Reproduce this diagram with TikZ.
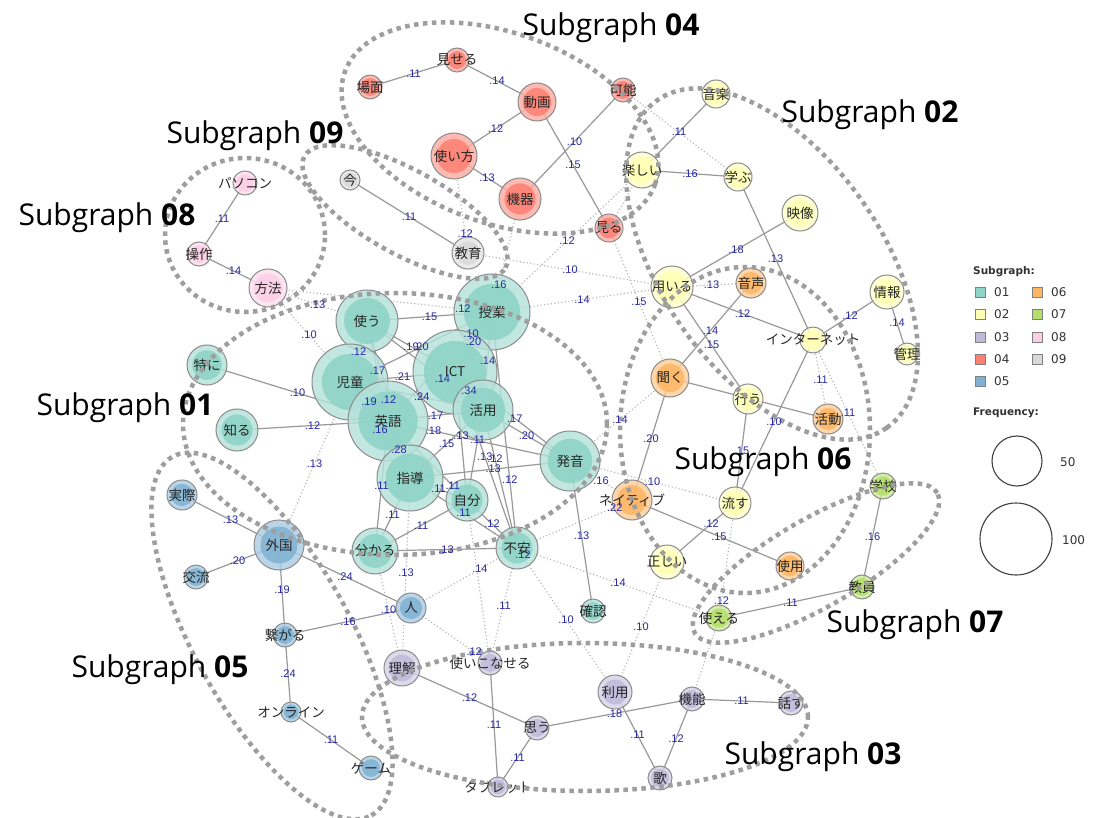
\documentclass[tikz,border=0pt]{standalone}
\usepackage{fontspec}
\newfontfamily\jp{Noto Sans CJK JP}
\newfontfamily\osans{Open Sans}
\newfontfamily\lsans{Liberation Sans}
\newfontfamily\dvs{DejaVu Sans}
\definecolor{sA}{HTML}{8DD3C7}
\definecolor{sB}{HTML}{FFFFB3}
\definecolor{sC}{HTML}{BEBADA}
\definecolor{sD}{HTML}{FB8072}
\definecolor{sE}{HTML}{80B1D3}
\definecolor{sF}{HTML}{FDB462}
\definecolor{sG}{HTML}{B3DE69}
\definecolor{sH}{HTML}{FCCDE5}
\definecolor{sI}{HTML}{D9D9D9}
\definecolor{lblc}{RGB}{40,40,165}
\pgfdeclarelayer{bglayer}
\pgfdeclarelayer{edgelayer}
\pgfdeclarelayer{lbllayer}
\pgfsetlayers{bglayer,edgelayer,main,lbllayer}
\tikzset{
 nd/.style={circle,draw=black!45,line width=1pt,inner sep=0pt,fill opacity=.82},
 txt/.style={font=\jp\fontsize{13.5}{14}\selectfont,text=black!85,inner sep=0pt},
 esol/.style={draw=black!40,line width=1.2pt},
 edot/.style={draw=black!30,line width=1.1pt,dash pattern=on 1.1pt off 2.4pt},
 lbl/.style={font=\lsans\fontsize{11}{11}\selectfont,text=lblc,inner sep=0pt},
 sg/.style={draw=black!38,line width=4.5pt,dash pattern=on 4.5pt off 4.5pt},
 ttl/.style={font=\osans\fontsize{30}{31}\selectfont,inner sep=0pt},
 lgt/.style={font=\dvs\fontsize{12}{13}\selectfont,text=black!80,inner sep=0pt,anchor=west},
 lgh/.style={font=\dvs\bfseries\fontsize{10.5}{12}\selectfont,text=black!80,inner sep=0pt,anchor=west},
 lsq/.style={draw=black!50,line width=.8pt,minimum size=10pt,inner sep=0pt},
}
\newcommand\N[6]{%
 \node[nd,minimum size=2*#4pt,fill=#5!65!white] (#1) at (#2,#3) {};
 \fill[#5,fill opacity=.85] (#1.center) circle[radius=.74*#4pt];
 \node[txt] (#1t) at (#1.center) {#6};}
\newcommand\E[5][esol]{%
 \begin{pgfonlayer}{edgelayer}\draw[#1] (#2.center) -- (#3.center);\end{pgfonlayer}%
 \begin{pgfonlayer}{lbllayer}\path (#2.center) -- node[lbl,pos=#4]{#5} (#3.center);\end{pgfonlayer}}
\begin{document}
\begin{tikzpicture}[x=1pt,y=-1pt]
\useasboundingbox (0,0) rectangle (1098,818);
\begin{pgfonlayer}{bglayer}\fill[white] (0,0) rectangle (1098,818);\end{pgfonlayer}
% ---------- nodes ----------
% 01
\N{tsukau}{367}{321}{31}{sA}{使う}
\N{jido}{350}{382}{38}{sA}{児童}
\N{jugyo}{492}{312}{38}{sA}{授業}
\N{ict}{455}{372}{42}{sA}{ICT}
\N{eigo}{388}{421}{40}{sA}{英語}
\N{katsuyo}{483}{410}{30}{sA}{活用}
\N{tokuni}{207}{365}{20}{sA}{特に}
\N{shiru}{237}{430}{21}{sA}{知る}
\N{shido}{410}{478}{33}{sA}{指導}
\N{jibun}{467}{500}{21}{sA}{自分}
\N{hatsuon}{570}{461}{30}{sA}{発音}
\N{wakaru}{375}{551}{23}{sA}{分かる}
\N{fuan}{517}{548}{21}{sA}{不安}
\N{kakunin}{593}{611}{12}{sA}{確認}
% 02
\N{ongaku}{716}{94}{14}{sB}{音楽}
\N{tanoshii}{642}{170}{18}{sB}{楽しい}
\N{manabu}{738}{177}{14}{sB}{学ぶ}
\N{eizo}{800}{213}{18}{sB}{映像}
\N{mochiiru}{672}{287}{21}{sB}{用いる}
\N{joho}{887}{292}{17}{sB}{情報}
\N{internet}{813}{340}{13}{sB}{インターネット}
\N{kanri}{907}{354}{11}{sB}{管理}
\N{okonau}{748}{399}{15}{sB}{行う}
\N{nagasu}{735}{503}{16}{sB}{流す}
\N{tadashii}{667}{562}{17}{sB}{正しい}
% 03
\N{rikai}{402}{668}{18}{sC}{理解}
\N{konaseru}{490}{663}{12}{sC}{使いこなせる}
\N{omou}{537}{728}{12}{sC}{思う}
\N{tablet}{498}{787}{10}{sC}{タブレット}
\N{riyo}{615}{692}{17}{sC}{利用}
\N{kino}{692}{699}{12}{sC}{機能}
\N{hanasu}{791}{703}{12}{sC}{話す}
\N{uta}{660}{778}{12}{sC}{歌}
% 04
\N{miseru}{457}{60}{12}{sD}{見せる}
\N{bamen}{370}{87}{12}{sD}{場面}
\N{doga}{537}{102}{19}{sD}{動画}
\N{kano}{623}{90}{12}{sD}{可能}
\N{tsukaikata}{454}{156}{23}{sD}{使い方}
\N{kiki}{520}{199}{21}{sD}{機器}
\N{miru}{609}{228}{14}{sD}{見る}
% 05
\N{jissai}{182}{495}{15}{sE}{実際}
\N{gaikoku}{279}{545}{25}{sE}{外国}
\N{koryu}{196}{577}{12}{sE}{交流}
\N{hito}{411}{608}{15}{sE}{人}
\N{tsunagaru}{285}{635}{12}{sE}{繋がる}
\N{online}{291}{712}{10}{sE}{オンライン}
\N{game}{371}{768}{12}{sE}{ゲーム}
% 06
\N{onsei}{751}{283}{15}{sF}{音声}
\N{kiku}{670}{378}{19}{sF}{聞く}
\N{katsudo}{828}{419}{15}{sF}{活動}
\N{native}{632}{500}{20}{sF}{ネイティブ}
\N{shiyo}{790}{566}{14}{sF}{使用}
% 07
\N{gakko}{883}{486}{13}{sG}{学校}
\N{kyoin}{862}{587}{12}{sG}{教員}
\N{tsukaeru}{719}{618}{13}{sG}{使える}
% 08
\N{pasokon}{245}{183}{12}{sH}{パソコン}
\N{sosa}{199}{254}{12}{sH}{操作}
\N{hoho}{268}{288}{19}{sH}{方法}
% 09
\N{ima}{350}{180}{10}{sI}{今}
\N{kyoiku}{468}{253}{16}{sI}{教育}
% ---------- edges ----------
% 04
\E{bamen}{miseru}{.5}{.11}
\E{miseru}{doga}{.5}{.14}
\E{doga}{tsukaikata}{.5}{.12}
\E{tsukaikata}{kiki}{.5}{.13}
\E{kano}{kiki}{.47}{.10}
\E{doga}{miru}{.5}{.15}
\E[edot]{kano}{manabu}{.5}{}
\E[edot]{miru}{tanoshii}{.5}{}
\E[edot]{miru}{kiku}{.49}{.15}
\E[edot]{tsukaikata}{kyoiku}{.8}{.12}
\E[edot]{kiki}{jugyo}{.76}{.16}
% 09, 08
\E{ima}{kyoiku}{.5}{.11}
\E{pasokon}{sosa}{.5}{.11}
\E{sosa}{hoho}{.5}{.14}
\E[edot]{hoho}{tsukau}{.5}{.13}
\E[edot]{hoho}{jido}{.5}{.10}
\E[edot]{hoho}{jugyo}{.87}{.12}
% 01
\E{tsukau}{jugyo}{.5}{.15}
\E{tsukau}{jido}{.5}{.12}
\E{tsukau}{ict}{.5}{.19}
\E{tsukau}{eigo}{.5}{.17}
\E{tsukau}{shido}{.5}{.12}
\E{tsukau}{katsuyo}{.65}{.14}
\E{jido}{jugyo}{.5}{.20}
\E{jido}{ict}{.5}{.21}
\E{jido}{eigo}{.5}{.19}
\E{jido}{katsuyo}{.54}{.24}
\E{jido}{shido}{.5}{.16}
\E{tokuni}{eigo}{.5}{.10}
\E{shiru}{eigo}{.5}{.12}
\E{jugyo}{ict}{.5}{.20}
\E{jugyo}{eigo}{.2}{.10}
\E{jugyo}{katsuyo}{.5}{.14}
\E{jugyo}{fuan}{.71}{.12}
\E{ict}{katsuyo}{.5}{.34}
\E{ict}{jibun}{.5}{.13}
\E{ict}{fuan}{.48}{.13}
\E{ict}{hatsuon}{.52}{.17}
\E{eigo}{katsuyo}{.5}{.17}
\E{eigo}{hatsuon}{.25}{.18}
\E{eigo}{shido}{.5}{.28}
\E{eigo}{wakaru}{.5}{.11}
\E{eigo}{jibun}{.82}{.11}
\E{katsuyo}{shido}{.5}{.15}
\E{katsuyo}{jibun}{.33}{.11}
\E{katsuyo}{fuan}{.35}{.12}
\E{katsuyo}{hatsuon}{.5}{.20}
\E{shido}{hatsuon}{.52}{.13}
\E{shido}{jibun}{.5}{.11}
\E{shido}{wakaru}{.5}{.11}
\E{shido}{fuan}{.5}{.11}
\E{jibun}{wakaru}{.5}{.11}
\E{jibun}{fuan}{.5}{.12}
\E{wakaru}{fuan}{.5}{.13}
\begin{pgfonlayer}{lbllayer}\path (wakaru.center) -- node[lbl,pos=1,xshift=6pt,yshift=-7pt]{.12} (fuan.center);\end{pgfonlayer}
\E{hatsuon}{kakunin}{.5}{.13}
% between groups
\E[edot]{gaikoku}{jido}{.5}{.13}
\E[edot]{shido}{rikai}{.5}{.13}
\E[edot]{wakaru}{rikai}{.5}{.10}
\E[edot]{hito}{fuan}{.65}{.14}
\E[edot]{fuan}{konaseru}{.5}{.11}
\E[edot]{jibun}{konaseru}{.5}{}
\E[edot]{hito}{konaseru}{.8}{.12}
\E[edot]{fuan}{native}{.85}{.22}
\E[edot]{fuan}{tsukaeru}{.5}{.14}
\E[edot]{fuan}{riyo}{.5}{.10}
\E[edot]{hatsuon}{native}{.5}{.16}
\E[edot]{hatsuon}{kiku}{.5}{.14}
\E[edot]{hatsuon}{nagasu}{.5}{.10}
\E[edot]{jugyo}{mochiiru}{.5}{.14}
\E[edot]{kyoiku}{mochiiru}{.5}{.10}
\E[edot]{tanoshii}{jugyo}{.5}{.12}
% 02
\E{ongaku}{tanoshii}{.5}{.11}
\E{tanoshii}{manabu}{.5}{.16}
\E{manabu}{internet}{.5}{.13}
\E{eizo}{mochiiru}{.5}{.18}
\E{mochiiru}{internet}{.5}{.12}
\E{mochiiru}{okonau}{.52}{.15}
\E{joho}{internet}{.5}{.12}
\E{joho}{kanri}{.5}{.14}
\E{internet}{nagasu}{.5}{.10}
\E{okonau}{nagasu}{.5}{.15}
\E{nagasu}{tadashii}{.35}{.12}
\E[edot]{mochiiru}{onsei}{.5}{.13}
\E[edot]{internet}{katsudo}{.5}{.11}
\E[edot]{internet}{gakko}{.5}{.11}
\E[edot]{tsukaeru}{nagasu}{.15}{.12}
\E[edot]{tadashii}{riyo}{.5}{.10}
\E[edot]{tsukaeru}{kino}{.5}{}
% 06
\E{onsei}{kiku}{.5}{.14}
\E{kiku}{native}{.5}{.20}
\E{native}{shiyo}{.55}{.15}
\E{kiku}{katsudo}{.5}{}
% 07
\E{gakko}{kyoin}{.5}{.16}
\E{tsukaeru}{kyoin}{.5}{.11}
% 03
\E{rikai}{omou}{.5}{.12}
\E{konaseru}{tablet}{.5}{.11}
\E{omou}{tablet}{.5}{.11}
\E{omou}{kino}{.5}{.18}
\E{riyo}{uta}{.5}{.11}
\E{kino}{uta}{.5}{.12}
\E{kino}{hanasu}{.5}{.11}
% 05
\E{jissai}{gaikoku}{.5}{.13}
\E{koryu}{gaikoku}{.5}{.20}
\E{gaikoku}{hito}{.5}{.24}
\E{gaikoku}{tsunagaru}{.5}{.19}
\E{tsunagaru}{hito}{.5}{.16}
\E{tsunagaru}{online}{.5}{.24}
\E{online}{game}{.5}{.11}
% ---------- subgraph outlines ----------
\draw[sg] (395,424) circle[x radius=212pt,y radius=131pt];
\draw[sg] (772,264) circle[x radius=200pt,y radius=110pt,rotate=-55];
\draw[sg] (585,717) circle[x radius=223pt,y radius=74pt];
\draw[sg] (500,128) circle[x radius=165pt,y radius=95pt,rotate=-20];
\draw[sg] (272,636) circle[x radius=205pt,y radius=78pt,rotate=-61];
\draw[sg] (745,430) circle[x radius=125pt,y radius=163pt];
\draw[sg] (816,563) circle[x radius=140pt,y radius=44pt,rotate=30];
\draw[sg] (245,235) circle[x radius=80pt,y radius=77pt];
\draw[sg] (405,212) circle[x radius=115pt,y radius=42pt,rotate=-29];
% ---------- titles ----------
\node[ttl] (t04) at (611,28) {Subgraph \textbf{04}};
\node[ttl] (t02) at (870,115) {Subgraph \textbf{02}};
\node[ttl] (t09) at (255,136) {Subgraph \textbf{09}};
\node[ttl] (t08) at (107,218) {Subgraph \textbf{08}};
\node[ttl] (t01) at (125,408) {Subgraph \textbf{01}};
\node[ttl] (t06) at (763,462) {Subgraph \textbf{06}};
\node[ttl] (t07) at (915,625) {Subgraph \textbf{07}};
\node[ttl] (t05) at (160,670) {Subgraph \textbf{05}};
\node[ttl] (t03) at (813,757) {Subgraph \textbf{03}};
% ---------- legend ----------
\node[lgh] (lh1) at (973,272) {Subgraph:};
\node[lsq,fill=sA] (q1) at (980,292) {}; \node[lgt] (l1) at (994,292) {01};
\node[lsq,fill=sB] (q2) at (980,314) {}; \node[lgt] (l2) at (994,314) {02};
\node[lsq,fill=sC] (q3) at (980,337) {}; \node[lgt] (l3) at (994,337) {03};
\node[lsq,fill=sD] (q4) at (980,359) {}; \node[lgt] (l4) at (994,359) {04};
\node[lsq,fill=sE] (q5) at (980,381) {}; \node[lgt] (l5) at (994,381) {05};
\node[lsq,fill=sF] (q6) at (1037,292) {}; \node[lgt] (l6) at (1051,292) {06};
\node[lsq,fill=sG] (q7) at (1037,314) {}; \node[lgt] (l7) at (1051,314) {07};
\node[lsq,fill=sH] (q8) at (1037,337) {}; \node[lgt] (l8) at (1051,337) {08};
\node[lsq,fill=sI] (q9) at (1037,359) {}; \node[lgt] (l9) at (1051,359) {09};
\node[lgh] (lh2) at (973,413) {Frequency:};
\node[circle,draw=black!75,line width=1.1pt,minimum size=50pt,inner sep=0pt] (f50) at (1017,461) {};
\node[circle,draw=black!75,line width=1.1pt,minimum size=72pt,inner sep=0pt] (f100) at (1016,539) {};
\node[lgt] (f50t) at (1060,462) {50};
\node[lgt] (f100t) at (1062,540) {100};
\end{tikzpicture}
\end{document}
